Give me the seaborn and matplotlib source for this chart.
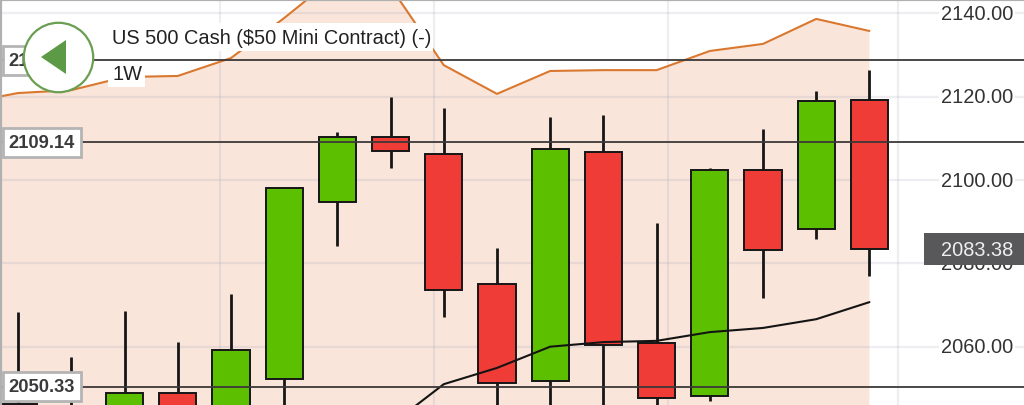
import matplotlib
matplotlib.use("Agg")
import matplotlib.pyplot as plt
from matplotlib.patches import Polygon, Rectangle
from matplotlib.transforms import blended_transform_factory
import numpy as np
import seaborn as sns

# Weekly candles, US 500 Cash
opens = [2046.2, 2040.0, 2041.0, 2048.9, 2040.0, 2052.25, 2094.7, 2110.35, 2106.3,
         2075.05, 2051.8, 2106.75, 2060.9, 2048.2, 2102.4, 2088.3, 2119.2]
closes = [2040.0, 2044.0, 2048.9, 2042.0, 2059.2, 2098.1, 2110.35, 2107.0, 2073.6,
          2051.3, 2107.5, 2060.4, 2047.7, 2102.4, 2083.2, 2119.0, 2083.38]
highs = [2068.3, 2057.5, 2068.6, 2061.1, 2072.7, 2098.3, 2111.5, 2120.0, 2117.3,
         2083.7, 2115.2, 2115.6, 2089.7, 2102.9, 2112.3, 2121.4, 2126.4]
lows = [2036.0, 2036.0, 2036.0, 2036.0, 2036.0, 2036.0, 2084.2, 2102.9, 2067.1,
        2036.0, 2036.0, 2036.0, 2036.0, 2047.0, 2071.7, 2085.9, 2077.0]

# Upper envelope (starts one week before the first candle) and moving average
upper_weeks = list(range(-1, 17))
upper_band = [2118.5, 2120.9, 2121.6, 2124.75, 2125.0, 2129.3, 2138.9, 2149.2, 2146.4,
              2127.6, 2120.7, 2126.2, 2126.4, 2126.4, 2131.0, 2132.7, 2138.7, 2135.8]
avg_weeks = list(range(7, 17))
moving_avg = [2041.2, 2051.0, 2054.9, 2060.0, 2061.1, 2061.4, 2063.5, 2064.5, 2066.6, 2070.7]

# Axis furniture
price_ticks = [2060.0, 2080.0, 2100.0, 2120.0, 2140.0]
month_marks = [3.80, 7.81, 12.22, 16.53]
level_lines = [2128.83, 2109.14, 2050.33]
last_price = 2083.38
title_text = "US 500 Cash ($50 Mini Contract) (-)"
period_text = "1W"

GREEN, RED = "#5cc000", "#f03c37"
EDGE = "#161616"
W, H = 1024, 406

sns.set_theme(style="white")
plt.rcParams["font.family"] = ["Liberation Sans", "DejaVu Sans"]

fig, ax = plt.subplots(figsize=(W / 100, H / 100), dpi=100)
fig.subplots_adjust(0, 0, 1, 1)
ax.set_xlim(-0.34, 18.905)
ax.set_ylim(2046.0, 2143.48)
ax.set_facecolor("white")
ax.set_yticks(price_ticks)
ax.set_xticks(month_marks)
ax.tick_params(left=False, bottom=False, labelleft=False, labelbottom=False)
ax.grid(True, color="#a8a8c0", alpha=0.2, lw=1.6, zorder=1)
ax.set_axisbelow(False)
for name in ("right", "bottom"):
    ax.spines[name].set_visible(False)
for name in ("top", "left"):
    ax.spines[name].set_color("#b0b0b0")
    ax.spines[name].set_linewidth(3)
    ax.spines[name].set_zorder(20)

ax.fill_between(upper_weeks, upper_band, 2000, color="#f9e5da", lw=0, zorder=0)
sns.lineplot(x=upper_weeks, y=upper_band, color="#d9782e", lw=1.5, ax=ax, zorder=3)

# Candles: wick first, body on top
weeks = np.arange(len(opens))
o, c = np.array(opens), np.array(closes)
ax.vlines(weeks, lows, highs, color=EDGE, lw=2.0, zorder=3)
ax.bar(weeks, np.abs(c - o), bottom=np.minimum(o, c), width=0.7,
       color=[GREEN if b > a else RED for a, b in zip(o, c)],
       edgecolor=EDGE, linewidth=1.4, zorder=4)

sns.lineplot(x=avg_weeks, y=moving_avg, color="#141414", lw=1.5, ax=ax, zorder=5)
for level in level_lines:
    ax.axhline(level, color="#3c3838", lw=1.3, zorder=6)

yax = blended_transform_factory(ax.transAxes, ax.transData)

# Price scale on the right
for tick in price_ticks:
    ax.text(1013 / W, tick, f"{tick:.2f}", transform=yax, ha="right", va="center",
            fontsize=14.4, color="#333333", zorder=7,
            bbox=dict(fc="white", ec="none", pad=1.5))

# Last price badge
badge_half = 16 / 4.165
ax.add_patch(Rectangle((924 / W, last_price - badge_half), 100 / W, 2 * badge_half,
                       transform=yax, fc="#58585a", ec="none", zorder=8))
ax.text(1013 / W, last_price, f"{last_price:.2f}", transform=yax, ha="right", va="center",
        fontsize=14.4, color="#eeeeee", zorder=9)

# Boxed level labels on the left
for level in level_lines:
    half = 14.5 / 4.165
    ax.add_patch(Rectangle((3 / W, level - half), 78 / W, 2 * half, transform=yax,
                           fc="white", ec="#b4b4b4", lw=2, zorder=10))
    ax.text(8 / W, level, f"{level:.2f}", transform=yax, ha="left", va="center",
            fontsize=13.2, fontweight="bold", color="#3a3a3c", zorder=11)

# Back button
ax.plot([58 / W], [1 - 58 / H], "o", ms=50, mfc="white", mec="#6a9e50", mew=1.6,
        transform=ax.transAxes, zorder=12, clip_on=False)
ax.add_patch(Polygon([(41 / W, 1 - 58 / H), (66 / W, 1 - 41 / H), (66 / W, 1 - 75 / H)],
                     transform=ax.transAxes, fc="#5c9a45", ec="none", zorder=13))

# Instrument and period captions
ax.add_patch(Rectangle((108 / W, 1 - 52 / H), 325 / W, 28 / H, transform=ax.transAxes,
                       fc="white", ec="none", zorder=7))
ax.add_patch(Rectangle((108 / W, 1 - 88 / H), 37 / W, 27 / H, transform=ax.transAxes,
                       fc="white", ec="none", zorder=5.5))
ax.text(112 / W, 1 - 38 / H, title_text, transform=ax.transAxes, ha="left", va="center",
        fontsize=14.4, color="#222222", zorder=14)
ax.text(112 / W, 1 - 75 / H, period_text, transform=ax.transAxes, ha="left", va="center",
        fontsize=14.4, color="#222222", zorder=14)

fig.savefig("out.png", dpi=100)
